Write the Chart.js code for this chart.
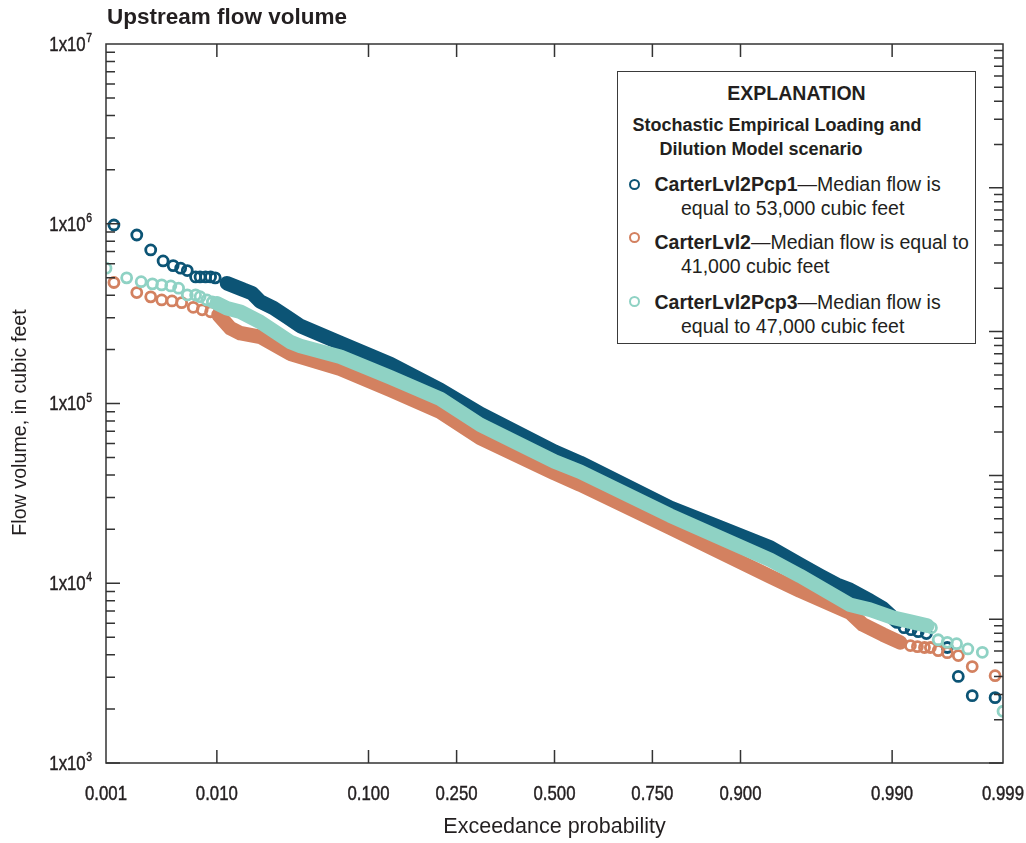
<!DOCTYPE html>
<html>
<head>
<meta charset="utf-8">
<script src="https://cdn.jsdelivr.net/npm/chart.js@4.4.1/dist/chart.umd.min.js"></script>
<style>
  body { margin: 0; background: #fff; }
  #wrap { position: relative; width: 1026px; height: 843px; }
  #title { position: absolute; left: 107px; top: 4px; font: bold 22.5px 'Liberation Sans', Arial, sans-serif; color: #231f20; white-space: nowrap; }
  #legend { position: absolute; left: 617px; top: 71px; width: 357px; height: 271px; border: 1.5px solid #3a3a3a; background: #fff;
            font-family: 'Liberation Sans', Arial, sans-serif; font-size: 19.5px; color: #231f20; }
  #legend div { position: absolute; white-space: nowrap; line-height: 24px; }
  #legend .ring { width: 7px; height: 7px; border-radius: 50%; border: 2.7px solid; }
</style>
</head>
<body>
<div id="wrap">
  <canvas id="chart" width="1026" height="843"></canvas>
  <div id="title">Upstream flow volume</div>
  <div id="legend"></div>
</div>
<script>
// axis ticks
const probTicks = [0.001, 0.01, 0.1, 0.25, 0.5, 0.75, 0.9, 0.99, 0.999];
const probLabels = ['0.001', '0.010', '0.100', '0.250', '0.500', '0.750', '0.900', '0.990', '0.999'];
const flowTicks = [1e3, 1e4, 1e5, 1e6, 1e7];
const flowLabels = [['1x10', '3'], ['1x10', '4'], ['1x10', '5'], ['1x10', '6'], ['1x10', '7']];
const xTitle = 'Exceedance probability';
const yTitle = 'Flow volume, in cubic feet';

const seriesNames = ['CarterLvl2Pcp1', 'CarterLvl2', 'CarterLvl2Pcp3'];
const seriesNotes = [['—Median flow is', 'equal to 53,000 cubic feet'],
                     ['—Median flow is equal to', '41,000 cubic feet'],
                     ['—Median flow is', 'equal to 47,000 cubic feet']];
const colours = ['#0c5475', '#d38160', '#8fd2c4'];

// CarterLvl2Pcp1: dense run of points (exceedance probability, cubic feet)
const pcp1BandProb = [0.0120, 0.0160, 0.0186, 0.0213, 0.0264, 0.0327, 0.0400, 0.0700, 0.1288, 0.2157, 0.3043, 0.5000,
                      0.5702, 0.7873, 0.8731, 0.9314, 0.9546, 0.9664, 0.9741, 0.9791, 0.9851, 0.9882, 0.9909];
const pcp1BandFlow = [467000, 429000, 411000, 369000, 340000, 303000, 270000, 217000, 166000, 119000, 87700, 54000,
                      46800, 26300, 20400, 15800, 12700, 11000, 9820, 9200, 8000, 7230, 6120];
// separate points at both ends
const pcp1PointProb = [0.0012, 0.0020, 0.0027, 0.0035, 0.0043, 0.0050, 0.0057, 0.0067, 0.0073, 0.0081, 0.0089, 0.0097,
                       0.9920, 0.9930, 0.9939, 0.9948, 0.9966, 0.9973, 0.9980, 0.9988];
const pcp1PointFlow = [984000, 866000, 715000, 621000, 585000, 566000, 549000, 506000, 506000, 506000, 506000, 500000,
                       5660, 5520, 5380, 5250, 4390, 3030, 2370, 2310];

// CarterLvl2
const lvl2BandProb = [0.0103, 0.0128, 0.0152, 0.0213, 0.0344, 0.0700, 0.1288, 0.2157, 0.3043, 0.5000,
                      0.5702, 0.7873, 0.9314, 0.9546, 0.9791, 0.9832, 0.9882, 0.9914];
const lvl2BandFlow = [311000, 262000, 246000, 235000, 189000, 156000, 119000, 89900, 64400, 41000,
                      35400, 20400, 10900, 9100, 6870, 5890, 5180, 4680];
const lvl2PointProb = [0.0012, 0.0020, 0.0027, 0.0034, 0.0042, 0.0051, 0.0064, 0.0076, 0.0089,
                       0.9929, 0.9938, 0.9946, 0.9952, 0.9959, 0.9966, 0.9973, 0.9980, 0.9988];
const lvl2PointFlow = [471000, 414000, 392000, 377000, 372000, 364000, 343000, 332000, 324000,
                       4500, 4440, 4390, 4390, 4220, 4110, 3960, 3440, 3060];

// CarterLvl2Pcp3
const pcp3BandProb = [0.0100, 0.0120, 0.0152, 0.0213, 0.0344, 0.0400, 0.0700, 0.1288, 0.2157, 0.3043, 0.5000,
                      0.5702, 0.7873, 0.9314, 0.9546, 0.9791, 0.9851, 0.9901, 0.9929, 0.9949];
const pcp3BandFlow = [361000, 339000, 324000, 284000, 220000, 209000, 182000, 140000, 106000, 76200, 47500,
                      41700, 23800, 13500, 11000, 7600, 7130, 6440, 6120, 5810];
const pcp3PointProb = [0.0010, 0.0016, 0.0022, 0.0028, 0.0034, 0.0041, 0.0048, 0.0057, 0.0067, 0.0073, 0.0083, 0.0092,
                       0.9953, 0.9959, 0.9966, 0.9972, 0.9978, 0.9984, 0.9990];
const pcp3PointFlow = [566000, 500000, 476000, 463000, 457000, 451000, 438000, 402000, 402000, 393000, 377000, 367000,
                       5650, 4850, 4690, 4610, 4310, 4130, 1940];

const regular = "'Liberation Sans', Arial, sans-serif";
const ink = '#231f20';

/**
 * Inverse of the standard normal distribution (Acklam), used for the probability axis.
 */
function probit (p) {
    const a = [-39.69683028665376, 220.9460984245205, -275.9285104469687, 138.3577518672690, -30.66479806614716, 2.506628277459239];
    const b = [-54.47609879822406, 161.5858368580409, -155.6989798598866, 66.80131188771972, -13.28068155288572];
    const c = [-0.007784894002430293, -0.3223964580411365, -2.400758277161838, -2.549732539343734, 4.374664141464968, 2.938163982698783];
    const d = [0.007784695709041462, 0.3224671290700398, 2.445134137142996, 3.754408661907416];
    const low = 0.02425;
    if (p < low || p > 1 - low) {
        const q = Math.sqrt(-2 * Math.log(p < low ? p : 1 - p));
        const z = (((((c[0] * q + c[1]) * q + c[2]) * q + c[3]) * q + c[4]) * q + c[5]) /
                  ((((d[0] * q + d[1]) * q + d[2]) * q + d[3]) * q + 1);
        return p < low ? z : -z;
    }
    const q = p - 0.5, r = q * q;
    return (((((a[0] * r + a[1]) * r + a[2]) * r + a[3]) * r + a[4]) * r + a[5]) * q /
           (((((b[0] * r + b[1]) * r + b[2]) * r + b[3]) * r + b[4]) * r + 1);
}

function toPoints (probs, flows) {
    return probs.map((p, i) => ({x: probit(p), y: flows[i]}));
}

const bands = [[pcp1BandProb, pcp1BandFlow], [lvl2BandProb, lvl2BandFlow], [pcp3BandProb, pcp3BandFlow]];
const ends = [[pcp1PointProb, pcp1PointFlow], [lvl2PointProb, lvl2PointFlow], [pcp3PointProb, pcp3PointFlow]];

// first dataset is drawn last, so Pcp3 goes first to sit on top
let datasets = [];
[2, 1, 0].forEach(i => {
    datasets.push({
        data: toPoints(bands[i][0], bands[i][1]),
        showLine: true,
        borderColor: colours[i],
        borderWidth: 14.5,
        borderCapStyle: 'round',
        borderJoinStyle: 'round',
        pointRadius: 0,
        clip: 0
    });
    datasets.push({
        data: toPoints(ends[i][0], ends[i][1]),
        showLine: false,
        pointRadius: 5,
        pointBorderWidth: 2.8,
        pointBorderColor: colours[i],
        pointBackgroundColor: 'rgba(0,0,0,0)',
        clip: 0
    });
});

/**
 * Condensed-looking text: the font is squeezed sideways and given a hairline stroke.
 */
function squeezed (ctx, text, x, y, align, size) {
    ctx.save();
    ctx.font = `${size}px ${regular}`;
    ctx.fillStyle = ink;
    ctx.strokeStyle = ink;
    ctx.lineWidth = 0.45;
    ctx.textAlign = align;
    ctx.textBaseline = 'middle';
    ctx.translate(x, y);
    ctx.scale(0.8, 1);
    ctx.fillText(text, 0, 0);
    ctx.strokeText(text, 0, 0);
    ctx.restore();
}

// frame, inward tick marks on all four sides, tick labels
const frame = {
    id: 'frame',
    afterDatasetsDraw (chart) {
        const {ctx, chartArea: a, scales} = chart;
        ctx.save();
        ctx.strokeStyle = '#333';
        ctx.lineWidth = 1.5;
        ctx.strokeRect(a.left, a.top, a.right - a.left, a.bottom - a.top);
        ctx.beginPath();
        probTicks.slice(1, -1).forEach(p => {
            const x = scales.x.getPixelForValue(probit(p));
            ctx.moveTo(x, a.bottom); ctx.lineTo(x, a.bottom - 13);
            ctx.moveTo(x, a.top); ctx.lineTo(x, a.top + 13);
        });
        const logTicks = (scale, x, dir) => {
            for (let d = scale.min; d < scale.max; d *= 10) {
                for (let m = 1; m < 10; m++) {
                    const y = scale.getPixelForValue(d * m);
                    ctx.moveTo(x, y);
                    ctx.lineTo(x + dir * (m === 1 ? 14 : 9), y);
                }
            }
        };
        logTicks(scales.y, a.left, 1);
        logTicks(scales.y2, a.right, -1);
        ctx.stroke();
        ctx.restore();

        probTicks.forEach((p, i) => {
            squeezed(ctx, probLabels[i], scales.x.getPixelForValue(probit(p)), a.bottom + 31, 'center', 21);
        });
        flowTicks.forEach((v, i) => {
            const y = scales.y.getPixelForValue(v);
            const right = a.left - 14;
            ctx.font = `13px ${regular}`;
            const expWidth = ctx.measureText(flowLabels[i][1]).width * 0.8;
            squeezed(ctx, flowLabels[i][1], right, y - 5.5, 'right', 13);
            squeezed(ctx, flowLabels[i][0], right - expWidth - 0.5, y + 1, 'right', 21);
        });
        ctx.save();
        ctx.font = `19.7px ${regular}`;
        ctx.fillStyle = ink;
        ctx.textAlign = 'center';
        ctx.textBaseline = 'middle';
        ctx.translate(21, (a.top + a.bottom) / 2 + 19);
        ctx.rotate(-Math.PI / 2);
        ctx.fillText(yTitle, 0, 0);
        ctx.restore();
    }
};

new Chart(document.getElementById('chart').getContext('2d'), {
    type: 'scatter',
    data: {datasets: datasets},
    options: {
        responsive: false,
        animation: false,
        events: [],
        layout: {padding: {top: 44, right: 23, bottom: 0, left: 0}},
        plugins: {legend: {display: false}, tooltip: {enabled: false}},
        scales: {
            x: {
                type: 'linear',
                min: probit(0.001),
                max: probit(0.999),
                afterFit: s => { s.height = 80; s.paddingLeft = 0; s.paddingRight = 0; },
                grid: {display: false, drawTicks: false},
                border: {display: false},
                ticks: {display: false},
                title: {display: true, text: xTitle, color: ink,
                        font: {family: regular, size: 21.5}, padding: {top: 0, bottom: 3}}
            },
            y: {
                type: 'logarithmic',
                position: 'left',
                min: 1e3,
                max: 1e7,
                afterFit: s => { s.width = 106; },
                grid: {display: false, drawTicks: false},
                border: {display: false},
                ticks: {display: false}
            },
            y2: {
                type: 'logarithmic',
                position: 'right',
                display: false,
                min: 1,
                max: 1e5,
                afterFit: s => { s.width = 0; }
            }
        }
    },
    plugins: [frame]
});

// explanation box
const legend = document.getElementById('legend');
function addText (html, left, top, style) {
    const el = document.createElement('div');
    el.innerHTML = html;
    el.style.left = left + 'px';
    el.style.top = top + 'px';
    if (style) el.style.cssText += style;
    legend.appendChild(el);
}
addText('EXPLANATION', 0, 8.5, 'width:100%;text-align:center;font-weight:bold;font-size:19.5px');
addText('Stochastic Empirical Loading and', 14.5, 41, 'font-weight:bold;font-size:18px');
addText('Dilution Model scenario', 41.5, 65, 'font-weight:bold;font-size:18px');
const entryTop = [100, 158, 218];
const markerY = [113.5, 166, 229.8];
seriesNames.forEach((name, i) => {
    addText(`<b>${name}</b>${seriesNotes[i][0]}`, 36.5, entryTop[i]);
    addText(seriesNotes[i][1], 63, entryTop[i] + 23.7);
    const ring = document.createElement('div');
    ring.className = 'ring';
    ring.style.borderColor = colours[i];
    ring.style.left = (17.5 - 6.2) + 'px';
    ring.style.top = (markerY[i] - 6.2) + 'px';
    legend.appendChild(ring);
});
</script>
</body>
</html>
